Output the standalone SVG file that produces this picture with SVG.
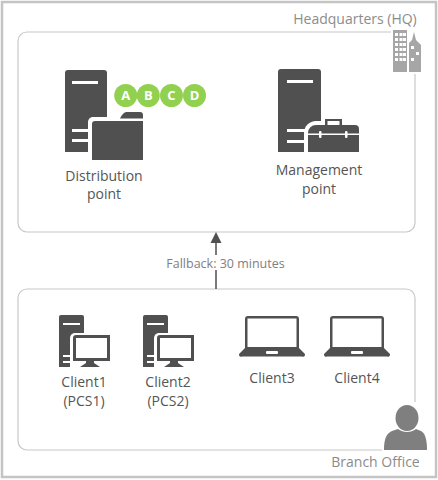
<svg xmlns="http://www.w3.org/2000/svg" width="438" height="480" viewBox="0 0 438 480">
<style>
text{font-family:"Open Sans","Noto Sans","Liberation Sans",sans-serif;font-size:14px;fill:#555;text-anchor:middle}
.loc{fill:#8c8c8c;font-size:14px}
.box{fill:#fff;stroke:#c8c8c8;stroke-width:1.2}
.d{fill:#505050}
.w{fill:#fff}
.g{fill:#a6a6a6}
.c{fill:#92d050}
.l{font-family:"Open Sans","Liberation Sans",sans-serif;font-weight:700;font-size:13px;fill:#fff}
.p{fill:#7f7f7f}
</style>
<rect width="438" height="480" fill="#fff"/>
<rect x="2" y="2" width="434" height="475" fill="none" stroke="#c4c4c4" stroke-width="2.5"/>
<g id="hq">
<rect class="box" x="18" y="32" width="397" height="200" rx="9"/>
<rect class="w" x="391" y="26" width="32" height="48"/>
<text class="loc" x="355" y="24">Headquarters (HQ)</text>
<path class="g" d="M393 30h14v42h-14z"/>
<path class="w" d="M395 33h3v3h-3zM399.500 33h3v3h-3zM395 38h3v3h-3zM399.500 38h3v3h-3zM395 43h3v3h-3zM399.500 43h3v3h-3zM395 48h3v3h-3zM399.500 48h3v3h-3zM395 53h3v3h-3zM399.500 53h3v3h-3zM395 58h3v3h-3zM399.500 58h3v3h-3zM403 33h3v3h-3zM403 38h3v3h-3zM403 43h3v3h-3zM403 48h3v3h-3zM403 53h3v3h-3zM403 58h3v3h-3z"/>
<path class="g" d="M409 72V43l3-3 2-8 2 8 3 3 2 2v27z"/>
<path class="w" d="M411 46h3v3h-3zM416 52h3v3h-3zM411 58h3v3h-3z"/>
</g>
<g id="branch">
<rect class="box" x="18" y="289" width="397" height="161" rx="9"/>
<rect class="w" x="382" y="402" width="46" height="49"/>
<text class="loc" x="375.500" y="467">Branch Office</text>
<ellipse class="p" cx="407" cy="418" rx="11.500" ry="13"/>
<path class="p" d="M384 450c0-12 3-17 8-19l6-2c5 4 13 4 18 0l5 2c4 2 6 8 6 19z"/>
</g>
<g id="connectors">
<path d="M216 289v-19M216 255v-14" fill="none" stroke="#505050" stroke-width="1.500"/>
<path class="d" d="M216 232l5.500 11h-11z"/>
<text x="225.500" y="268" style="font-size:12.500px;fill:#808080">Fallback: 30 minutes</text>
</g>
<g id="distribution-point">
<path class="d" d="M65 73a3 3 0 0 1 3-3h36a3 3 0 0 1 3 3v79H65z"/>
<path class="w" d="M72 81h26v3H72zM72 129h26v3H72zM72 139h26v3H72z"/>
<path class="w" d="M88 160v-38a5 5 0 0 1 5-5h50v43z"/>
<path class="d" d="M92 160v-36a3 3 0 0 1 3-3h48v39z"/>
<path class="d" d="M120 118.500c2-4 4-6.500 7-6.500h13a3 3 0 0 1 3 3v3.500z"/>
<circle class="c" cx="125.700" cy="95.500" r="11.500"/>
<circle class="c" cx="148.300" cy="95.500" r="11.500"/>
<circle class="c" cx="171.500" cy="95.500" r="11.500"/>
<circle class="c" cx="194.500" cy="95.500" r="11.500"/>
<text class="l" x="125.700" y="100">A</text>
<text class="l" x="148.300" y="100">B</text>
<text class="l" x="171.500" y="100">C</text>
<text class="l" x="194.500" y="100">D</text>
<text x="104" y="181">Distribution</text>
<text x="104" y="199">point</text>
</g>
<g id="management-point">
<path class="d" d="M278 72a3 3 0 0 1 3-3h37a3 3 0 0 1 3 3v80h-43z"/>
<path class="w" d="M287 80h26v3h-26zM287 129h26v3h-26zM287 140h26v3h-26z"/>
<path class="w" d="M304 152v-19a12 12 0 0 1 12-12h43v31z"/>
<path class="d" d="M308 152v-19a8 8 0 0 1 8-8h9v-6h17v6h13a4 4 0 0 1 4 4v23z"/>
<path class="w" d="M327.500 121h12v4h-12zM308 133.500h51v1.500h-51z"/>
<rect class="w" x="319" y="131" width="2.500" height="7" rx="1"/>
<rect class="w" x="345" y="131" width="2.500" height="7" rx="1"/>
<text x="319" y="175">Management</text>
<text x="319" y="194">point</text>
</g>
<g id="client1">
<path class="d" d="M59 317a2 2 0 0 1 2-2h21a2 2 0 0 1 2 2v50H59z"/>
<path class="w" d="M63 323h17v2H63zM63 355h20v2H63zM63 361h20v2H63z"/>
<path class="w" d="M70 367v-29a5 5 0 0 1 5-5h36v34z"/>
<path class="d" d="M73 361v-23a3 3 0 0 1 3-3h34v26h-16v2l6 4H80l6-4v-2z"/>
<rect class="w" x="76" y="338" width="31" height="20"/>
<text x="84" y="386.500">Client1</text>
<text x="84" y="405.500">(PCS1)</text>
</g>
<g id="client2">
<path class="d" d="M143 317a2 2 0 0 1 2-2h21a2 2 0 0 1 2 2v50h-25z"/>
<path class="w" d="M147 323h17v2h-17zM147 355h20v2h-20zM147 361h20v2h-20z"/>
<path class="w" d="M154 367v-29a5 5 0 0 1 5-5h36v34z"/>
<path class="d" d="M157 361v-23a3 3 0 0 1 3-3h34v26h-16v2l6 4h-20l6-4v-2z"/>
<rect class="w" x="160" y="338" width="31" height="20"/>
<text x="168" y="386.500">Client2</text>
<text x="168" y="405.500">(PCS2)</text>
</g>
<g id="client3">
<path class="d" d="M245 348v-29a3 3 0 0 1 3-3h48a3 3 0 0 1 3 3v29l5 5a2 2 0 0 1-2 3.500h-60a2 2 0 0 1-2-3.500z"/>
<rect class="w" x="247.500" y="318.500" width="49" height="28.500"/>
<rect class="w" x="266" y="351" width="12" height="3" rx="1"/>
<text x="272" y="383">Client3</text>
</g>
<g id="client4">
<path class="d" d="M330 348v-29a3 3 0 0 1 3-3h48a3 3 0 0 1 3 3v29l5 5a2 2 0 0 1-2 3.500h-60a2 2 0 0 1-2-3.500z"/>
<rect class="w" x="332.500" y="318.500" width="49" height="28.500"/>
<rect class="w" x="351" y="351" width="12" height="3" rx="1"/>
<text x="357" y="383">Client4</text>
</g>
</svg>
